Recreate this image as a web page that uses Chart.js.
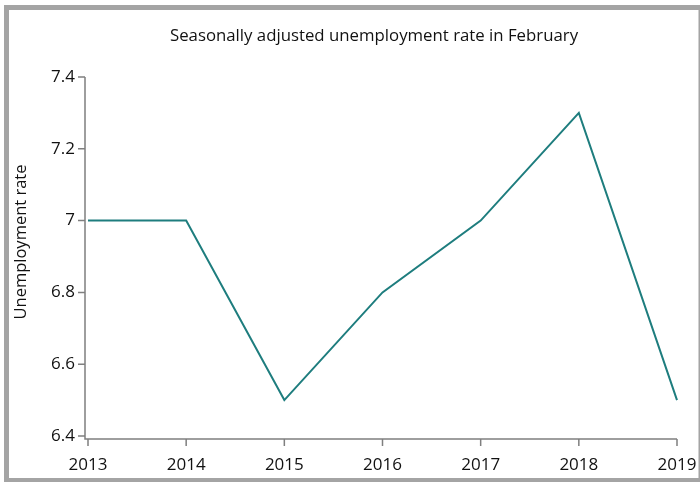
<!DOCTYPE html>
<html>
<head>
<meta charset="utf-8">
<script src="https://cdn.jsdelivr.net/npm/chart.js@4"></script>
<style>
  html, body { margin: 0; padding: 0; background: #fff; }
  #frame { position: absolute; left: 4px; top: 5px; width: 696px; height: 477px; background: #a4a4a4; }
  #inner { position: absolute; left: 9px; top: 10px; width: 689px; height: 468px; background: #fff; border-right: 1px solid #d0d0d0; }
  #wrap { position: absolute; left: 0; top: 0; width: 700px; height: 482px; }
</style>
</head>
<body>
<div id="frame"></div>
<div id="inner"></div>
<div id="wrap"><canvas id="myChart" width="700" height="482"></canvas></div>
<script>
var years = ["2013", "2014", "2015", "2016", "2017", "2018", "2019"];
var rates = [7.0, 7.0, 6.5, 6.8, 7.0, 7.3, 6.5];
var yTicks = [6.4, 6.6, 6.8, 7.0, 7.2, 7.4];
var titleText = "Seasonally adjusted unemployment rate in February";
var yTitle = "Unemployment rate";

var font = "'Open Sans', sans-serif";
var axisGray = "#7f7f7f";

// R-style detached axes, ticks and the two titles
var axesPlugin = {
  id: "axesPlugin",
  afterDraw: function(chart) {
    var c = chart.ctx, a = chart.chartArea;
    var xs = chart.scales.x, ys = chart.scales.y;
    var axX = a.left - 3, axY = a.bottom + 3;
    c.save();
    c.strokeStyle = axisGray;
    c.lineWidth = 1.5;
    c.beginPath();
    c.moveTo(axX, ys.getPixelForValue(7.4));
    c.lineTo(axX, axY);
    c.lineTo(xs.getPixelForValue(years.length - 1), axY);
    yTicks.forEach(function(v) {
      var py = ys.getPixelForValue(v);
      c.moveTo(axX - 7, py);
      c.lineTo(axX, py);
    });
    years.forEach(function(y, i) {
      var px = xs.getPixelForValue(i);
      c.moveTo(px, axY);
      c.lineTo(px, axY + 7);
    });
    c.stroke();

    c.fillStyle = "#111";
    c.font = "16.8px " + font;
    c.textAlign = "center";
    c.textBaseline = "alphabetic";
    c.fillText(titleText, 374, 41);

    c.translate(21, 242);
    c.rotate(-Math.PI / 2);
    c.textBaseline = "middle";
    c.font = "16.5px " + font;
    c.fillText(yTitle, 0, 0);
    c.restore();
  }
};

var ctx = document.getElementById("myChart");
var myChart = new Chart(ctx, {
  type: "line",
  data: {
    labels: years,
    datasets: [
      {
        label: yTitle,
        data: rates,
        borderColor: "#1e7d7e",
        borderWidth: 2,
        pointRadius: 0,
        tension: 0,
        fill: false
      }
    ]
  },
  options: {
    responsive: false,
    animation: false,
    layout: { padding: { left: 0, right: 23, top: 77, bottom: 0 } },
    plugins: {
      legend: { display: false },
      title: { display: false },
      tooltip: { enabled: false }
    },
    scales: {
      x: {
        offset: false,
        grid: { display: false },
        border: { display: false },
        ticks: { color: "#111", font: { family: font, size: 17 }, padding: 11, maxRotation: 0 },
        afterFit: function(s) {
          s.height = 46;
          s.paddingLeft = 0;
          s.paddingRight = 0;
        }
      },
      y: {
        min: 6.4,
        max: 7.4,
        afterBuildTicks: function(s) {
          s.ticks = yTicks.map(function(v) { return { value: v }; });
        },
        grid: { display: false },
        border: { display: false },
        ticks: {
          color: "#111",
          font: { family: font, size: 17 },
          padding: 5,
          callback: function(v) { return String(Math.round(v * 10) / 10); }
        },
        afterFit: function(s) {
          s.width = 88;
          s.paddingTop = 0;
          s.paddingBottom = 0;
        }
      }
    }
  },
  plugins: [axesPlugin]
});
</script>
</body>
</html>
